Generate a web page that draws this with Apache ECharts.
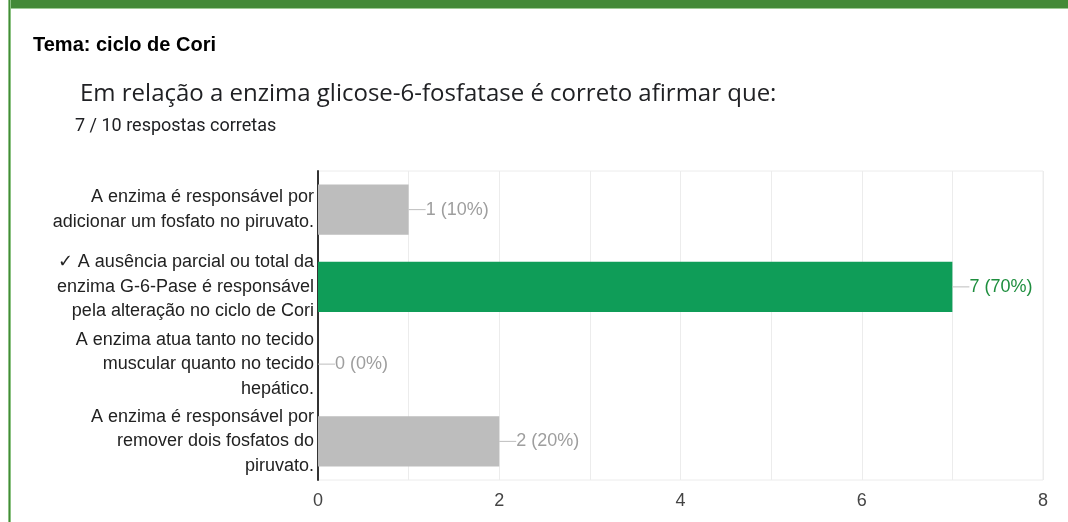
<!DOCTYPE html>
<html>
<head>
<meta charset="utf-8">
<script src="https://cdn.jsdelivr.net/npm/echarts@6/dist/echarts.min.js"></script>
<style>
html,body{margin:0;padding:0;background:#fff;}
#chart{width:1068px;height:522px;}
</style>
</head>
<body>
<div id="chart"></div>
<script>
const categories = [
  'A enzima é responsável por\nadicionar um fosfato no piruvato.',
  '✓ A ausência parcial ou total da\nenzima G-6-Pase é responsável\npela alteração no ciclo de Cori',
  'A enzima atua tanto no tecido\nmuscular quanto no tecido\nhepático.',
  'A enzima é responsável por\nremover dois fosfatos do\npiruvato.'
];
const counts = [1, 7, 0, 2];
const percents = ['10%', '70%', '0%', '20%'];
const correctIndex = 1;
const totalLabel = '7 / 10 respostas corretas';
const sectionTitle = 'Tema: ciclo de Cori';
const questionTitle = 'Em relação a enzima glicose-6-fosfatase é correto afirmar que:';

const GREEN = '#0f9d58';
const GRAY = '#bdbdbd';
const FONT = '"Liberation Sans", Arial, sans-serif';

const chart = echarts.init(document.getElementById('chart'));
chart.setOption({
  animation: false,
  backgroundColor: '#fff',
  graphic: [
    { type: 'rect', shape: { x: 9, y: 0, width: 1059, height: 8 }, style: { fill: '#438a37' } },
    { type: 'rect', shape: { x: 9, y: 8, width: 1059, height: 1 }, style: { fill: '#9ccb94' } },
    { type: 'rect', shape: { x: 8, y: 0, width: 3, height: 522 }, style: { fill: '#8cc283' } },
    { type: 'rect', shape: { x: 9, y: 0, width: 1, height: 522 }, style: { fill: '#438a37' } },
    { type: 'text', left: 33, top: 35, style: { text: sectionTitle, font: 'bold 20px "Liberation Sans", Arial, sans-serif', fill: '#000' } },
    { type: 'text', left: 80, top: 82, style: { text: questionTitle, font: '24px "Open Sans", Roboto, sans-serif', fill: '#202124' } },
    { type: 'text', left: 75, top: 117, style: { text: totalLabel, font: '18px Roboto, "Open Sans", sans-serif', fill: '#202124' } }
  ],
  grid: { left: 318, right: 25, top: 171, bottom: 42, show: true, borderColor: '#ececec', borderWidth: 1 },
  xAxis: {
    type: 'value', min: 0, max: 8, interval: 1,
    axisLine: { show: false }, axisTick: { show: false },
    splitLine: { show: true, lineStyle: { color: '#ececec', width: 1 } },
    axisLabel: {
      color: '#444', fontSize: 18, fontFamily: FONT, margin: 12,
      formatter: v => (v % 2 === 0 ? String(v) : '')
    }
  },
  yAxis: {
    type: 'category', inverse: true, data: categories,
    axisLine: { show: true, lineStyle: { color: '#333', width: 2 } },
    axisTick: { show: false },
    axisLabel: { color: '#222', fontSize: 18, lineHeight: 24.5, align: 'right', margin: 4, fontFamily: FONT }
  },
  series: [{
    type: 'bar',
    data: counts.map((v, i) => ({
      value: v,
      itemStyle: { color: i === correctIndex ? GREEN : GRAY },
      label: { rich: { t: { color: i === correctIndex ? '#1e8e3e' : '#9e9e9e', fontSize: 18, fontFamily: FONT } } }
    })),
    barCategoryGap: '35%',
    label: {
      show: true, position: 'right', distance: 0,
      formatter: p => '{l| }{t|' + counts[p.dataIndex] + ' (' + percents[p.dataIndex] + ')}',
      rich: {
        l: { width: 17, height: 1, backgroundColor: '#bdbdbd', fontSize: 1 },
        t: { fontSize: 18, color: '#9e9e9e', fontFamily: FONT }
      }
    }
  }]
});
</script>
</body>
</html>
